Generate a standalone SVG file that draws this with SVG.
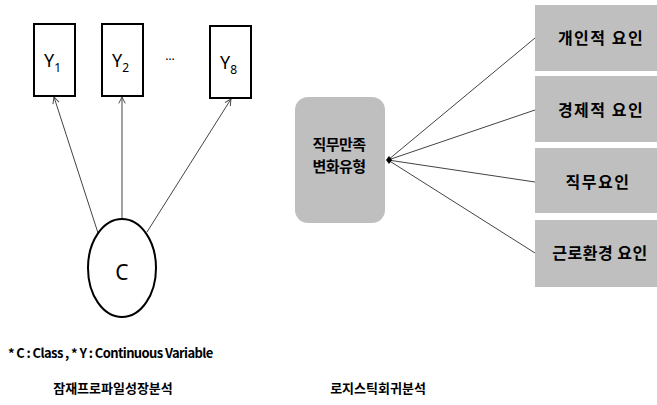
<svg xmlns="http://www.w3.org/2000/svg" width="657" height="405" viewBox="0 0 657 405">
<defs>
<style>
.bx{fill:#fff;stroke:#000;stroke-width:2}
.gb{fill:#bfbfbf;stroke:none}
.ln{stroke:#444;stroke-width:1;fill:none}
.t{font-family:"Noto Sans CJK KR","Noto Sans",sans-serif;fill:#000}
.y{font-family:"Noto Sans","DejaVu Sans",sans-serif;font-size:18px;fill:#000}
.sub{font-size:12px}
.k{font-family:"Noto Sans CJK KR",sans-serif;font-weight:bold;font-size:16px;letter-spacing:1.5px;fill:#000;text-anchor:middle}
</style>
<marker id="ah" viewBox="0 0 10 10" refX="9" refY="5" markerWidth="8" markerHeight="8" orient="auto" markerUnits="userSpaceOnUse">
<path d="M1,1 L9,5 L1,9" fill="none" stroke="#444" stroke-width="1.2"/>
</marker>
</defs>
<g id="connectors">
<line class="ln" x1="98" y1="233" x2="54" y2="97" marker-end="url(#ah)"/>
<line class="ln" x1="122" y1="219" x2="122" y2="97" marker-end="url(#ah)"/>
<line class="ln" x1="147" y1="232" x2="231" y2="99" marker-end="url(#ah)"/>
<line class="ln" x1="388" y1="160" x2="535" y2="38"/>
<line class="ln" x1="388" y1="160" x2="535" y2="110"/>
<line class="ln" x1="388" y1="160" x2="535" y2="182"/>
<line class="ln" x1="388" y1="160" x2="535" y2="253"/>
<path d="M386,160 L389,156 L392,160 L389,164 Z" fill="#000"/>
</g>
<g id="Y1"><rect class="bx" x="34" y="24" width="41" height="72"/><text class="y" x="44" y="67">Y<tspan class="sub" dy="5">1</tspan></text></g>
<g id="Y2"><rect class="bx" x="102" y="24" width="41" height="72"/><text class="y" x="112" y="67">Y<tspan class="sub" dy="5">2</tspan></text></g>
<g id="dots"><text class="y" x="170" y="60" text-anchor="middle" style="font-size:12px">…</text></g>
<g id="Y8"><rect class="bx" x="210" y="26" width="41" height="72"/><text class="y" x="220" y="69">Y<tspan class="sub" dy="5">8</tspan></text></g>
<g id="C"><ellipse class="bx" cx="122" cy="268" rx="34" ry="49"/><text class="y" x="122" y="280" text-anchor="middle" style="font-size:21px">C</text></g>
<g id="center"><rect class="gb" x="295" y="97" width="90" height="126" rx="13"/>
<text class="k" x="339" y="150" style="font-size:15px;letter-spacing:-0.5px">직무만족</text>
<text class="k" x="339" y="172" style="font-size:15px;letter-spacing:-0.5px">변화유형</text></g>
<g id="f1"><rect class="gb" x="535" y="5" width="122" height="66"/><text class="k" x="601" y="44">개인적 요인</text></g>
<g id="f2"><rect class="gb" x="535" y="76" width="122" height="66"/><text class="k" x="601" y="116">경제적 요인</text></g>
<g id="f3"><rect class="gb" x="535" y="148" width="122" height="65"/><text class="k" x="598" y="188">직무요인</text></g>
<g id="f4"><rect class="gb" x="535" y="220" width="122" height="67"/><text class="k" x="600" y="259" style="letter-spacing:0.5px">근로환경 요인</text></g>
<text class="t" x="8" y="358" style="font-size:13px;font-weight:bold;letter-spacing:-0.6px">* C : Class , * Y : Continuous Variable</text>
<text class="t" x="113" y="393" text-anchor="middle" style="font-size:13px;font-weight:bold">잠재프로파일성장분석</text>
<text class="t" x="378" y="393" text-anchor="middle" style="font-size:13px;font-weight:bold">로지스틱회귀분석</text>
</svg>
